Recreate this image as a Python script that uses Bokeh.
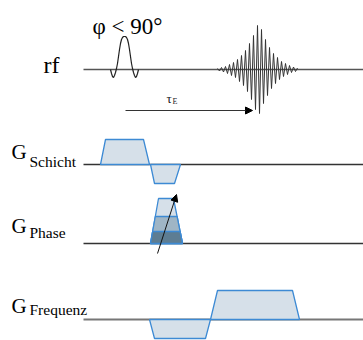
from bokeh.plotting import figure
from bokeh.models import Range1d, Arrow, NormalHead
from bokeh.core.properties import value
from bokeh.embed import file_html
from bokeh.resources import INLINE

# ---- data (time axis in px-like units, amplitudes positive = up) ----
rf_t   = [110, 111, 112, 113, 114, 115, 116, 117, 118, 119, 120, 121, 122, 123, 124,
          125, 126, 127, 128, 129, 130, 131, 132, 133, 134, 135, 136, 137, 138]
rf_amp = [0, -4, -7, -8, -6, -3, 1, 6, 13, 20, 26, 30, 32, 33, 33,
          33, 32, 30, 26, 20, 13, 6, 1, -3, -6, -8, -7, -4, 0]

echo_t   = list(range(217, 299, 2))
echo_amp = [1, -1.5, 2, -2.5, 3, -4, 5, -6, 7, -8, 10, -12, 14, -16, 19, -22, 26, -30, 34, -40,
            44, -44, 40, -34, 30, -26, 22, -19, 16, -14, 12, -10, 8, -7, 6, -5, 4, -3, 2.5, -2, 1.5]

schicht_lobes = [([100, 105, 143, 149], [0, 25, 25, 0]),
                 ([150, 154, 174, 180], [0, -19, -19, 0])]
phase_t = [150, 158, 173, 182]
phase_levels = [45, 27, 12]
frequenz_lobes = [([149, 154, 205, 210], [0, -19, -19, 0]),
                  ([210, 217, 292, 299], [0, 29, 29, 0])]

baselines = {"rf": 69, "Schicht": 164, "Phase": 243, "Frequenz": 319}

BLUE = "#3d8ad4"
FILL = "#d6e0e9"
PHASE_FILLS = ["#d6e0e9", "#9fb5c5", "#5d7d93"]
FONT = value("'Liberation Serif', 'Times New Roman', serif")

p = figure(width=363, height=340, output_backend="svg", toolbar_location=None,
           x_range=Range1d(0, 363), y_range=Range1d(340, 0),
           min_border=0, outline_line_color=None)
p.axis.visible = False
p.grid.visible = False
p.background_fill_color = "white"

# baselines
p.line([83, 363], [baselines["rf"]] * 2, line_color="#555555", line_width=1.5)
p.line([83, 363], [baselines["Schicht"]] * 2, line_color="#333333", line_width=1.3)
p.line([83, 363], [baselines["Phase"]] * 2, line_color="#333333", line_width=1.3)
p.line([83, 363], [baselines["Frequenz"]] * 2, line_color="#777777", line_width=2)

# rf pulse and echo
b = baselines["rf"]
p.line(rf_t, [b - a for a in rf_amp], line_color="#222222", line_width=1.2)
p.line(echo_t, [b - a for a in echo_amp], line_color="#333333", line_width=1.0)

# slice gradient
b = baselines["Schicht"]
for t, a in schicht_lobes:
    p.patch(t, [b - v for v in a], fill_color=FILL, line_color=BLUE, line_width=1.3)

# phase gradient (stacked levels)
b = baselines["Phase"]
top = phase_levels[0]
for lvl, fc in zip(phase_levels, PHASE_FILLS):
    f = lvl / top
    xl = phase_t[0] + (phase_t[1] - phase_t[0]) * f
    xr = phase_t[3] - (phase_t[3] - phase_t[2]) * f
    p.patch([phase_t[0], xl, xr, phase_t[3]], [b, b - lvl, b - lvl, b],
            fill_color=fc, line_color=BLUE, line_width=1.3)

# frequency gradient
b = baselines["Frequenz"]
for t, a in frequenz_lobes:
    p.patch(t, [b - v for v in a], fill_color=FILL, line_color=BLUE, line_width=1.3)

# arrows
p.add_layout(Arrow(end=NormalHead(size=7, fill_color="black", line_color="black"),
                   x_start=125, y_start=110, x_end=252, y_end=110,
                   line_color="#333333", line_width=1))
p.add_layout(Arrow(end=NormalHead(size=7, fill_color="black", line_color="black"),
                   x_start=157, y_start=253, x_end=176, y_end=194,
                   line_color="#111111", line_width=1))

# texts
p.text([92], [25.5], text=["φ < 90°"], text_font=FONT, text_font_size="23px",
       text_color="black", text_baseline="alphabetic")
p.text([43], [64], text=["rf"], text_font=FONT, text_font_size="24px",
       text_color="black", text_baseline="alphabetic")
p.text([166], [98], text=["τ"], text_font=FONT, text_font_size="13px",
       text_color="#222222", text_baseline="alphabetic")
p.text([172], [101], text=["E"], text_font=FONT, text_font_size="8px",
       text_color="#222222", text_baseline="alphabetic")

g_y = [151, 225, 305]
sub_y = [161, 232, 309]
subs = ["Schicht", "Phase", "Frequenz"]
p.text([11] * 3, g_y, text=["G"] * 3, text_font=FONT, text_font_size="21px",
       text_color="black", text_baseline="alphabetic")
p.text([29] * 3, sub_y, text=subs, text_font=FONT, text_font_size="15.5px",
       text_color="black", text_baseline="alphabetic")

open("out.html", "w").write(file_html(p, INLINE))
